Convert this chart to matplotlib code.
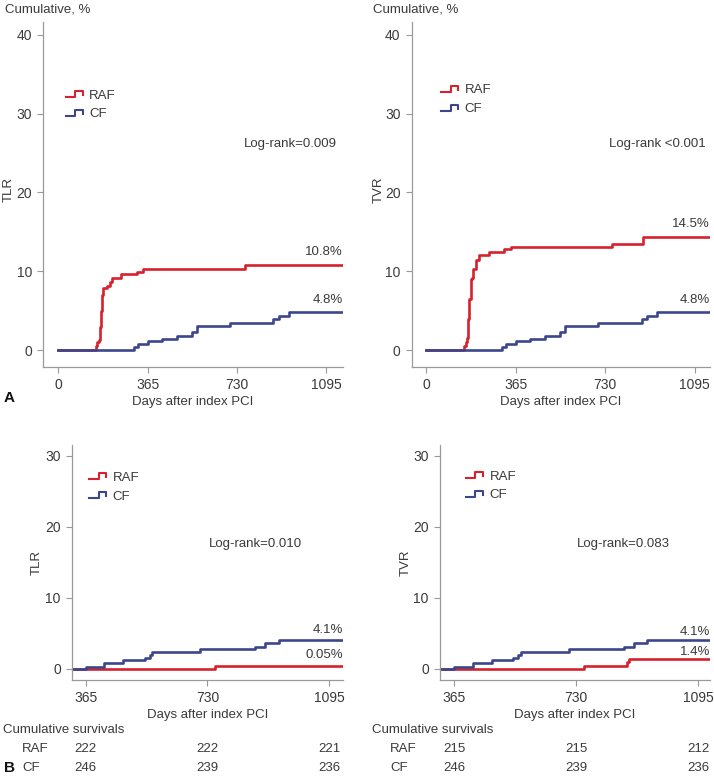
import numpy as np
import matplotlib
matplotlib.use("Agg")
import matplotlib.pyplot as plt
from matplotlib.lines import Line2D
from matplotlib.legend_handler import HandlerBase
from matplotlib.transforms import blended_transform_factory

plt.rcParams['font.family'] = ['Liberation Sans', 'DejaVu Sans']

RED = '#d5222e'
BLUE = '#3b468c'
GREY = '#9a9a9a'
TXT = '#3a3a3a'
FS = 9.5

# ---- panel A, days 0..1095 ----
tlr_raf_days = [0, 154, 158, 166, 172, 176, 180, 184, 200, 212, 220, 258, 320, 346, 762, 1160]
tlr_raf_vals = [0, 0.5, 1.0, 1.3, 3.0, 5.0, 7.0, 7.9, 8.1, 8.6, 9.15, 9.6, 9.9, 10.3, 10.8, 10.8]

cf_days = [0, 310, 327, 368, 425, 483, 545, 565, 701, 878, 902, 943, 1160]
cf_vals = [0, 0.4, 0.8, 1.1, 1.45, 1.85, 2.3, 3.1, 3.5, 3.95, 4.35, 4.8, 4.8]

tvr_raf_days = [0, 156, 163, 168, 172, 177, 183, 186, 190, 204, 217, 255, 319, 346, 756, 883, 1160]
tvr_raf_vals = [0, 0.55, 1.0, 1.6, 3.9, 6.5, 9.0, 9.2, 10.3, 11.4, 12.1, 12.4, 12.8, 13.1, 13.5, 14.4, 14.4]

# ---- panel B, landmark from day 365 ----
b_cf_days = [324, 365, 420, 477, 542, 557, 564, 708, 873, 903, 943, 1135]
b_cf_vals = [0, 0.35, 0.8, 1.2, 1.55, 2.0, 2.35, 2.8, 3.15, 3.6, 4.1, 4.1]

b_tlr_raf_days = [324, 752, 1135]
b_tlr_raf_vals = [0, 0.42, 0.42]

b_tvr_raf_days = [324, 753, 881, 889, 1135]
b_tvr_raf_vals = [0, 0.47, 1.0, 1.4, 1.4]

a_ticks = [0, 365, 730, 1095]
b_ticks = [365, 730, 1095]

surv_raf_tlr = [222, 222, 221]
surv_cf_tlr = [246, 239, 236]
surv_raf_tvr = [215, 215, 212]
surv_cf_tvr = [246, 239, 236]


class StepHandler(HandlerBase):
    def create_artists(self, legend, orig_handle, xdescent, ydescent,
                       width, height, fontsize, trans):
        xs = np.array([0, 0.55, 0.55, 1, 1]) * width - xdescent
        ys = np.array([0.15, 0.15, 0.8, 0.8, 0.35]) * height - ydescent
        ln = Line2D(xs, ys, color=orig_handle.get_color(), lw=1.5,
                    transform=trans)
        return [ln]


def style(ax, xlim, ylim, xticks, yticks, ylabel, ylab_xy, xlab_xy):
    ax.set_xlim(*xlim)
    ax.set_ylim(*ylim)
    ax.set_xticks(xticks)
    ax.set_yticks(yticks)
    for s in ['top', 'right']:
        ax.spines[s].set_visible(False)
    for s in ['left', 'bottom']:
        ax.spines[s].set_color(GREY)
        ax.spines[s].set_linewidth(0.9)
    ax.tick_params(colors=GREY, labelcolor=TXT, labelsize=10, length=4,
                   width=0.8)
    ax.tick_params(axis='x', pad=4)
    ax.tick_params(axis='y', pad=4)
    ax.set_xlabel('Days after index PCI', fontsize=FS, color=TXT)
    ax.set_ylabel(ylabel, fontsize=FS, color=TXT)
    ax.yaxis.set_label_coords(*ylab_xy)
    ax.xaxis.set_label_coords(*xlab_xy)


def curves(ax, raf, cf, leg_anchor):
    l1, = ax.step(raf[0], raf[1], where='post', color=RED, lw=1.9)
    l2, = ax.step(cf[0], cf[1], where='post', color=BLUE, lw=1.9)
    ax.legend([l1, l2], ['RAF', 'CF'], handler_map={Line2D: StepHandler()},
              loc='upper left', bbox_to_anchor=leg_anchor, frameon=False,
              fontsize=FS, handlelength=1.25, handletextpad=0.5,
              labelspacing=0.5, labelcolor=TXT, borderaxespad=0)


def end_label(ax, y, s):
    tr = blended_transform_factory(ax.transAxes, ax.transData)
    ax.text(1.0, y, s, ha='right', va='center', fontsize=FS, color=TXT,
            transform=tr)


fig = plt.figure(figsize=(7.14, 7.76), dpi=100)

axA1 = fig.add_axes([0.0606, 0.5274, 0.4193, 0.4442])
axA2 = fig.add_axes([0.5766, 0.5274, 0.4178, 0.4442])
axB1 = fig.add_axes([0.1008, 0.1237, 0.3791, 0.3028])
axB2 = fig.add_axes([0.6162, 0.1237, 0.3780, 0.3028])

# A: TLR
curves(axA1, (tlr_raf_days, tlr_raf_vals), (cf_days, cf_vals), (0.059, 0.82))
style(axA1, (-61, 1161), (-2.1, 41.6), a_ticks, [0, 10, 20, 30, 40],
      'TLR', (-0.095, 0.513), (0.5, -0.085))
axA1.text(0.98, 0.645, 'Log-rank=0.009', transform=axA1.transAxes,
          ha='right', va='center', fontsize=FS, color=TXT)
end_label(axA1, 10.8 + 1.6, '10.8%')
end_label(axA1, 4.8 + 1.6, '4.8%')

# A: TVR
curves(axA2, (tvr_raf_days, tvr_raf_vals), (cf_days, cf_vals), (0.082, 0.835))
style(axA2, (-58, 1157), (-2.1, 41.6), a_ticks, [0, 10, 20, 30, 40],
      'TVR', (-0.09, 0.513), (0.5, -0.085))
axA2.text(0.985, 0.645, 'Log-rank <0.001', transform=axA2.transAxes,
          ha='right', va='center', fontsize=FS, color=TXT)
end_label(axA2, 14.4 + 1.6, '14.5%')
end_label(axA2, 4.8 + 1.6, '4.8%')

# B: TLR
curves(axB1, (b_tlr_raf_days, b_tlr_raf_vals), (b_cf_days, b_cf_vals), (0.045, 0.91))
style(axB1, (324, 1135), (-1.55, 31.5), b_ticks, [0, 10, 20, 30],
      'TLR', (-0.107, 0.5), (0.5, -0.123))
axB1.text(0.676, 0.58, 'Log-rank=0.010', transform=axB1.transAxes,
          ha='center', va='center', fontsize=FS, color=TXT)
end_label(axB1, 4.1 + 1.45, '4.1%')
end_label(axB1, 0.42 + 1.5, '0.05%')

# B: TVR
curves(axB2, (b_tvr_raf_days, b_tvr_raf_vals), (b_cf_days, b_cf_vals), (0.078, 0.915))
style(axB2, (322, 1130), (-1.55, 31.5), b_ticks, [0, 10, 20, 30],
      'TVR', (-0.104, 0.5), (0.5, -0.123))
axB2.text(0.68, 0.58, 'Log-rank=0.083', transform=axB2.transAxes,
          ha='center', va='center', fontsize=FS, color=TXT)
end_label(axB2, 4.1 + 1.15, '4.1%')
end_label(axB2, 1.4 + 1.05, '1.4%')

# headers
fig.text(5 / 714, 1 - 9 / 776, 'Cumulative, %', fontsize=FS, color=TXT, va='center')
fig.text(373 / 714, 1 - 9 / 776, 'Cumulative, %', fontsize=FS, color=TXT, va='center')
fig.text(4 / 714, 1 - 398 / 776, 'A', fontsize=11, fontweight='bold', color='#111', va='center')
fig.text(4 / 714, 1 - 768 / 776, 'B', fontsize=11, fontweight='bold', color='#111', va='center')

# survival tables
for ax, raf, cf, x0, xl in [(axB1, surv_raf_tlr, surv_cf_tlr, 3, 22),
                            (axB2, surv_raf_tvr, surv_cf_tvr, 372, 390)]:
    fig.text(x0 / 714, 1 - 730 / 776, 'Cumulative survivals', fontsize=FS,
             color=TXT, va='center')
    fig.text(xl / 714, 1 - 749 / 776, 'RAF', fontsize=FS, color=TXT, va='center')
    fig.text(xl / 714, 1 - 768 / 776, 'CF', fontsize=FS, color=TXT, va='center')
    tr = blended_transform_factory(ax.transData, fig.transFigure)
    for t, a, c in zip(b_ticks, raf, cf):
        ax.text(t, 1 - 749 / 776, str(a), transform=tr, ha='center',
                va='center', fontsize=FS, color=TXT)
        ax.text(t, 1 - 768 / 776, str(c), transform=tr, ha='center',
                va='center', fontsize=FS, color=TXT)

fig.savefig('out.png', dpi=100)
